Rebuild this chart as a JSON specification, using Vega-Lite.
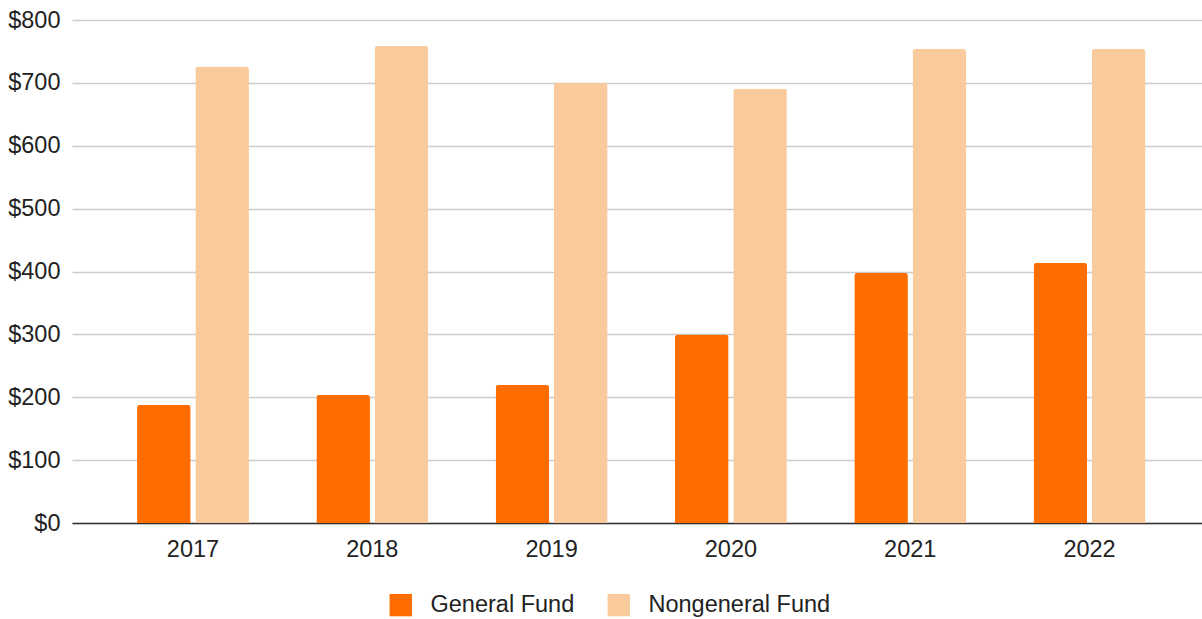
{
  "$schema": "https://vega.github.io/schema/vega-lite/v6.json",
  "autosize": "none",
  "width": 1130,
  "height": 503,
  "padding": {"left": 72, "top": 20, "right": 0, "bottom": 96},
  "background": "white",
  "config": {
    "view": {"stroke": null},
    "font": "Liberation Sans"
  },
  "data": {
    "values": [
      {"year": "2017", "fund": "General Fund", "value": 188},
      {"year": "2017", "fund": "Nongeneral Fund", "value": 726},
      {"year": "2018", "fund": "General Fund", "value": 204},
      {"year": "2018", "fund": "Nongeneral Fund", "value": 759},
      {"year": "2019", "fund": "General Fund", "value": 220},
      {"year": "2019", "fund": "Nongeneral Fund", "value": 700},
      {"year": "2020", "fund": "General Fund", "value": 300},
      {"year": "2020", "fund": "Nongeneral Fund", "value": 691},
      {"year": "2021", "fund": "General Fund", "value": 398},
      {"year": "2021", "fund": "Nongeneral Fund", "value": 754},
      {"year": "2022", "fund": "General Fund", "value": 414},
      {"year": "2022", "fund": "Nongeneral Fund", "value": 754}
    ]
  },
  "mark": {"type": "bar", "cornerRadiusTopLeft": 3, "cornerRadiusTopRight": 3},
  "encoding": {
    "x": {
      "field": "year", "type": "nominal", "title": null,
      "scale": {"paddingInner": 0.376, "paddingOuter": 0.339, "align": 0.535},
      "axis": {
        "labelAngle": 0, "labelFont": "Liberation Sans", "labelFontSize": 23.5,
        "labelColor": "#222222", "labelPadding": 14, "ticks": false,
        "domainColor": "#333333", "domainWidth": 1.5
      }
    },
    "xOffset": {"field": "fund", "type": "nominal", "scale": {"paddingInner": 0.08, "paddingOuter": 0}},
    "y": {
      "field": "value", "type": "quantitative", "title": null,
      "scale": {"domain": [0, 800], "nice": false},
      "axis": {
        "values": [0, 100, 200, 300, 400, 500, 600, 700, 800],
        "format": "$,d", "labelFont": "Liberation Sans", "labelFontSize": 23.5,
        "labelColor": "#222222", "labelPadding": 12, "ticks": false, "domain": false,
        "gridColor": "#cccccc", "gridWidth": 1.5
      }
    },
    "color": {
      "field": "fund", "type": "nominal", "title": null,
      "scale": {"domain": ["General Fund", "Nongeneral Fund"], "range": ["#ff6d01", "#f9cb9c"]},
      "legend": {
        "orient": "none", "direction": "horizontal", "legendX": 317, "legendY": 573,
        "symbolType": "square", "symbolSize": 500, "symbolStrokeWidth": 0,
        "labelFont": "Liberation Sans", "labelFontSize": 23.5, "labelColor": "#222222",
        "labelOffset": 18, "columnPadding": 32, "labelLimit": 400, "symbolOpacity": 1
      }
    }
  }
}
